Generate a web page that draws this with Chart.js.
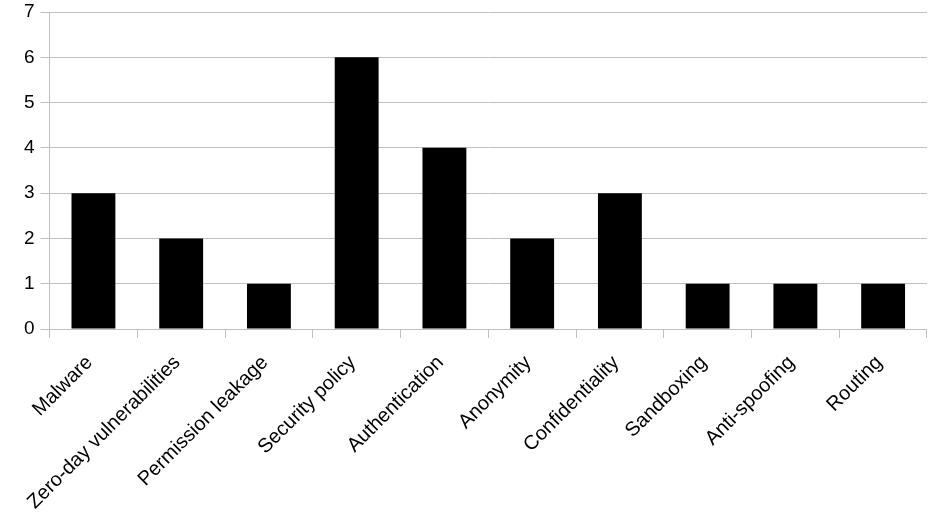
<!DOCTYPE html>
<html>
<head>
<meta charset="utf-8">
<script src="https://cdn.jsdelivr.net/npm/chart.js@4"></script>
<style>
  html, body { margin: 0; padding: 0; background: #fff; }
  #wrap { width: 946px; height: 531px; position: relative; }
</style>
</head>
<body>
<div id="wrap"><canvas id="topics-chart"></canvas></div>
<script>
const categories = ['Malware', 'Zero-day vulnerabilities', 'Permission leakage', 'Security policy',
    'Authentication', 'Anonymity', 'Confidentiality', 'Sandboxing', 'Anti-spoofing', 'Routing'];
const counts = [3, 2, 1, 6, 4, 2, 3, 1, 1, 1];
const yTicks = [0, 1, 2, 3, 4, 5, 6, 7];

const gridGray = '#c0c0c0';
const ctx = document.getElementById('topics-chart').getContext('2d');

const topicsChart = new Chart(ctx, {
    type: 'bar',
    data: {
        labels: categories,
        datasets: [{
            data: counts,
            backgroundColor: '#000000',
            borderWidth: 0,
            barPercentage: 0.5,
            categoryPercentage: 1.0
        }]
    },
    options: {
        responsive: true,
        maintainAspectRatio: false,
        animation: false,
        layout: { padding: { left: 18, right: 19, top: 0, bottom: 0 } },
        plugins: {
            legend: { display: false },
            tooltip: { enabled: false }
        },
        scales: {
            x: {
                // room for the long slanted labels below the plot
                afterFit: (axis) => { axis.height = 202; },
                grid: {
                    offset: true,
                    // only the outer edges run up through the plot, the rest are tick marks
                    color: (c) => (c.index === 0 || c.index === categories.length) ? gridGray : 'rgba(0,0,0,0)',
                    tickColor: gridGray,
                    tickLength: 9,
                    lineWidth: 1
                },
                border: { display: false },
                ticks: {
                    color: '#000',
                    font: { family: 'Liberation Sans', size: 20 },
                    minRotation: 45,
                    maxRotation: 45,
                    autoSkip: false,
                    padding: 13,
                    labelOffset: -4
                }
            },
            y: {
                min: 0,
                max: 7,
                afterBuildTicks: (axis) => { axis.ticks = yTicks.map(v => ({ value: v })); },
                afterFit: (axis) => { axis.paddingTop = 12; axis.paddingBottom = 0; },
                grid: {
                    color: gridGray,
                    tickColor: gridGray,
                    tickLength: 9,
                    lineWidth: 1
                },
                border: { display: true, color: gridGray, width: 1 },
                ticks: {
                    color: '#000',
                    font: { family: 'Liberation Sans', size: 19 },
                    padding: 6
                }
            }
        }
    }
});
</script>
</body>
</html>
